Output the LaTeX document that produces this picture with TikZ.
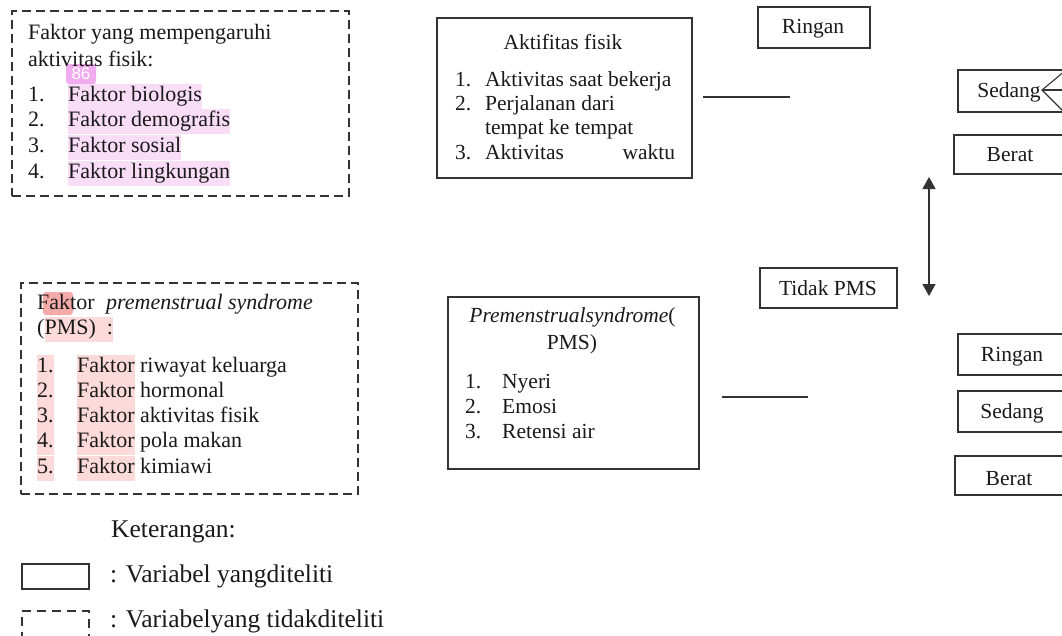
\documentclass[tikz,border=0pt]{standalone}
\usepackage{fontspec}
\setmainfont{Liberation Serif}
\newfontfamily\badgefont{Liberation Sans}
\usetikzlibrary{arrows.meta}
\definecolor{ln}{HTML}{333333}
\definecolor{tx}{HTML}{1A1A1A}
\definecolor{hlpink}{HTML}{F9DDF7}
\definecolor{hlred}{HTML}{FDDADA}
\definecolor{hlnote}{HTML}{F5AAAA}
\definecolor{badgecol}{HTML}{F0ACEF}
\newcommand\hlp[1]{{\setlength\fboxsep{0pt}\colorbox{hlpink}{\strut #1}}}
\newcommand\hlr[1]{{\setlength\fboxsep{0pt}\colorbox{hlred}{\strut #1}}}
\tikzset{
  solidbox/.style={draw=ln, line width=1.6pt, anchor=north west, inner sep=0pt},
  dashbox/.style={draw=ln, line width=1.6pt, dash pattern=on 9pt off 5pt, anchor=north west, inner sep=0pt},
  tl/.style={text=tx, font=\fontsize{22}{25}\selectfont, inner sep=0pt, anchor=base west},
  tr/.style={text=tx, font=\fontsize{21.5}{25}\selectfont, inner sep=0pt, anchor=base west},
  tc/.style={text=tx, font=\fontsize{21.5}{25}\selectfont, inner sep=0pt, anchor=base},
  lg/.style={text=tx, font=\fontsize{25.5}{28}\selectfont, inner sep=0pt, anchor=base west},
  conn/.style={draw=ln, line width=1.4pt},
  tip/.tip={Triangle[length=12pt,width=13pt]},
}
\begin{document}
\begin{tikzpicture}[x=1pt,y=-1pt]
\clip (0,0) rectangle (1062,635);
\fill[white] (0,0) rectangle (1062,635);

% ---------- dashed box 1 ----------
\node[dashbox, minimum width=337pt, minimum height=185pt] (b1) at (11,10) {};
\node[rounded corners=3pt, fill=badgecol, minimum width=30pt, minimum height=20pt, inner sep=0pt, text=white, font=\badgefont\fontsize{17}{17}\selectfont] (badge) at (81,74) {86};
\node[tl] (b1t1) at (28,39) {Faktor yang mempengaruhi};
\node[tl] (b1t2) at (28,66) {aktivitas fisik:};
\node[tl] (b1n1) at (28,101) {1.};
\node[tl] (b1n2) at (28,126) {2.};
\node[tl] (b1n3) at (28,152) {3.};
\node[tl] (b1n4) at (28,178) {4.};
\node[tl] (b1i1) at (68,101) {\hlp{Faktor biologis}};
\node[tl] (b1i2) at (68,126) {\hlp{Faktor demografis}};
\node[tl] (b1i3) at (68,152) {\hlp{Faktor sosial}};
\node[tl] (b1i4) at (68,178) {\hlp{Faktor lingkungan}};

% ---------- dashed box 2 ----------
\node[dashbox, minimum width=337pt, minimum height=211pt] (b2) at (20,282) {};
\node[rounded corners=3pt, fill=hlnote, minimum width=30pt, minimum height=23pt, inner sep=0pt] (note) at (58,303.5) {};
\node[tl] (b2t1) at (37,309) {Faktor\hspace{6pt} \textit{premenstrual syndrome}};
\node[tl] (b2t2) at (37,334) {(\hlr{PMS)\ \ :}};
\node[tl] (b2n1) at (37,372) {\hlr{1.}};
\node[tl] (b2n2) at (37,397) {\hlr{2.}};
\node[tl] (b2n3) at (37,422) {\hlr{3.}};
\node[tl] (b2n4) at (37,447) {\hlr{4.}};
\node[tl] (b2n5) at (37,473) {\hlr{5.}};
\node[tl] (b2i1) at (77,372) {\hlr{Faktor} riwayat keluarga};
\node[tl] (b2i2) at (77,397) {\hlr{Faktor} hormonal};
\node[tl] (b2i3) at (77,422) {\hlr{Faktor} aktivitas fisik};
\node[tl] (b2i4) at (77,447) {\hlr{Faktor} pola makan};
\node[tl] (b2i5) at (77,473) {\hlr{Faktor} kimiawi};

% ---------- Aktifitas fisik ----------
\node[solidbox, minimum width=255pt, minimum height=160pt] (akt) at (436,17) {};
\node[tc] (aktt) at (563,49) {Aktifitas fisik};
\node[tr] (aktn1) at (455,86) {1.};
\node[tr] (aktn2) at (455,110) {2.};
\node[tr] (aktn3) at (455,159) {3.};
\node[tr] (akti1) at (485,86) {Aktivitas saat bekerja};
\node[tr] (akti2) at (485,110) {Perjalanan dari};
\node[tr] (akti2b) at (485,134) {tempat ke tempat};
\node[tr] (akti3) at (485,159) {\hbox to 190pt{Aktivitas\hfill waktu}};

% ---------- PMS ----------
\node[solidbox, minimum width=251pt, minimum height=172pt] (pms) at (447,296) {};
\node[tc] (pmst1) at (572.5,322) {\textit{Premenstrualsyndrome}(};
\node[tc] (pmst2) at (572,349) {PMS)};
\node[tr] (pmsn1) at (465,388) {1.};
\node[tr] (pmsn2) at (465,413) {2.};
\node[tr] (pmsn3) at (465,438) {3.};
\node[tr] (pmsi1) at (502,388) {Nyeri};
\node[tr] (pmsi2) at (502,413) {Emosi};
\node[tr] (pmsi3) at (502,438) {Retensi air};

% ---------- category boxes ----------
\node[solidbox, minimum width=112pt, minimum height=41pt] (ring1) at (757,6) {};
\node[tc] at (813,33) {Ringan};
\node[solidbox, minimum width=130pt, minimum height=42pt] (sed1) at (957,69) {};
\node[tc] at (1009,97) {Sedang};
\node[solidbox, minimum width=130pt, minimum height=39pt] (ber1) at (953,134) {};
\node[tc] at (1010,161) {Berat};
\node[solidbox, minimum width=137pt, minimum height=40pt] (tidak) at (759,267) {};
\node[tc] at (828,295) {Tidak PMS};
\node[solidbox, minimum width=130pt, minimum height=41pt] (ring2) at (957,333) {};
\node[tc] at (1012,361) {Ringan};
\node[solidbox, minimum width=130pt, minimum height=41pt] (sed2) at (957,390) {};
\node[tc] at (1012,418) {Sedang};
\node[solidbox, minimum width=130pt, minimum height=39pt] (ber2) at (954,455) {};
\node[tc] at (1009,485) {Berat};

% ---------- connectors ----------
\coordinate (l1a) at (703,97); \coordinate (l1b) at (790,97);
\draw[conn] (l1a) -- (l1b);
\coordinate (l2a) at (722,397); \coordinate (l2b) at (808,397);
\draw[conn] (l2a) -- (l2b);
\coordinate (arA) at (929,177); \coordinate (arB) at (929,296);
\draw[conn, tip-tip] (arA) -- (arB);
\coordinate (apex) at (1042,90);
\coordinate (f1) at (1066,70); \coordinate (f2) at (1066,90); \coordinate (f3) at (1066,114);
\draw[conn, line width=1.1pt] (f1) -- (apex) -- (f3);
\draw[conn, line width=1.1pt] (apex) -- (f2);

% ---------- legend ----------
\node[lg] (ket) at (111,537) {Keterangan:};
\node[solidbox, minimum width=67pt, minimum height=25pt] (lgs) at (21,563) {};
\node[lg] (lgst) at (110,582) {: Variabel yangditeliti};
\node[dashbox, minimum width=67pt, minimum height=40pt, dash pattern=on 9pt off 6pt] (lgd) at (21,610) {};
\node[lg] (lgdt) at (110,627) {: Variabelyang tidakditeliti};
\end{tikzpicture}
\end{document}
